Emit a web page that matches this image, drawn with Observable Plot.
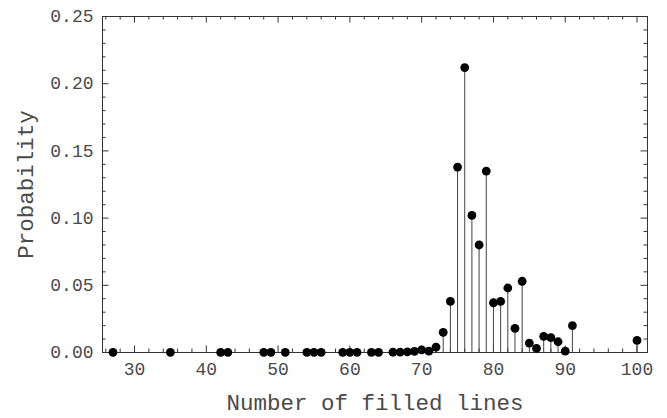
<!DOCTYPE html>
<html>
<head>
<meta charset="utf-8">
<script src="https://cdn.jsdelivr.net/npm/d3@7"></script>
<script src="https://cdn.jsdelivr.net/npm/@observablehq/plot@0.6"></script>
<style>
  html, body { margin: 0; padding: 0; background: #fff; }
</style>
</head>
<body>
<div id="chart"></div>
<script>
// Number of filled lines and the probability of each count
const lines = [27, 35, 42, 43, 48, 49, 51, 54, 55, 56, 59, 60, 61, 63, 64,
  66, 67, 68, 69, 70, 71, 72, 73, 74, 75, 76, 77, 78, 79, 80, 81, 82, 83, 84,
  85, 86, 87, 88, 89, 90, 91, 100];
const probability = [0.0001, 0.0001, 0.0001, 0.0001, 0.0001, 0.0001, 0.0001,
  0.0001, 0.0001, 0.0001, 0.0001, 0.0001, 0.0001, 0.0001, 0.0001,
  0.0002, 0.0003, 0.0005, 0.0008, 0.002, 0.001, 0.004, 0.015, 0.038, 0.138,
  0.212, 0.102, 0.080, 0.135, 0.037, 0.038, 0.048, 0.018, 0.053,
  0.007, 0.003, 0.012, 0.011, 0.008, 0.001, 0.020, 0.009];

// Axis ticks
const xLabels = [30, 40, 50, 60, 70, 80, 90, 100];
const xMinor = d3.range(26, 102, 2).filter(v => v % 10 !== 0);
const yLabels = [0, 0.05, 0.10, 0.15, 0.20, 0.25];
const yMinor = d3.range(1, 25).map(i => i / 100).filter((v, i) => (i + 1) % 5 !== 0);

const data = lines.map((n, i) => ({n, p: probability[i]}));

const W = 667, H = 418;
const M = {top: 16, right: 20, bottom: 66, left: 102};
const innerW = W - M.left - M.right;
const innerH = H - M.top - M.bottom;
const majorLen = 6.5, minorLen = 3.5;
const ink = "#333";
const textInk = "#4a4a4a";

const chart = Plot.plot({
  width: W,
  height: H,
  marginTop: M.top,
  marginRight: M.right,
  marginBottom: M.bottom,
  marginLeft: M.left,
  style: {fontFamily: "'Liberation Mono', 'Courier New', monospace", color: textInk, background: "#fff"},
  x: {domain: [25.54, 101.46]},
  y: {domain: [0, 0.25]},
  marks: [
    // inward frame ticks, bottom & top
    Plot.tickX(xLabels, {x: d => d, insetTop: innerH - majorLen, stroke: ink}),
    Plot.tickX(xMinor, {x: d => d, insetTop: innerH - minorLen, stroke: ink}),
    Plot.tickX(xLabels, {x: d => d, insetBottom: innerH - majorLen, stroke: ink}),
    Plot.tickX(xMinor, {x: d => d, insetBottom: innerH - minorLen, stroke: ink}),
    // inward frame ticks, left & right
    Plot.tickY(yLabels, {y: d => d, insetRight: innerW - majorLen, stroke: ink}),
    Plot.tickY(yMinor, {y: d => d, insetRight: innerW - minorLen, stroke: ink}),
    Plot.tickY(yLabels, {y: d => d, insetLeft: innerW - majorLen, stroke: ink}),
    Plot.tickY(yMinor, {y: d => d, insetLeft: innerW - minorLen, stroke: ink}),
    Plot.axisX({ticks: xLabels, tickSize: 0, tickPadding: 10, fontSize: 18, tickFormat: d => String(d), label: null}),
    Plot.axisY({ticks: yLabels, tickSize: 0, tickPadding: 9, fontSize: 18, tickFormat: d3.format(".2f"), label: null}),
    Plot.frame({stroke: ink}),
    // stems and points
    Plot.ruleX(data, {x: "n", y1: 0, y2: "p", stroke: "#444", strokeWidth: 1}),
    Plot.dot(data, {x: "n", y: "p", r: 4.4, fill: "#000", stroke: null}),
    // axis titles
    Plot.text(["Number of filled lines"], {frameAnchor: "bottom", dy: 50, lineAnchor: "middle", fontSize: 22.5, fill: textInk}),
    Plot.text(["Probability"], {frameAnchor: "left", dx: -77, rotate: -90, textAnchor: "middle", lineAnchor: "middle", fontSize: 22.5, fill: textInk})
  ]
});

document.getElementById("chart").appendChild(chart);
</script>
</body>
</html>
